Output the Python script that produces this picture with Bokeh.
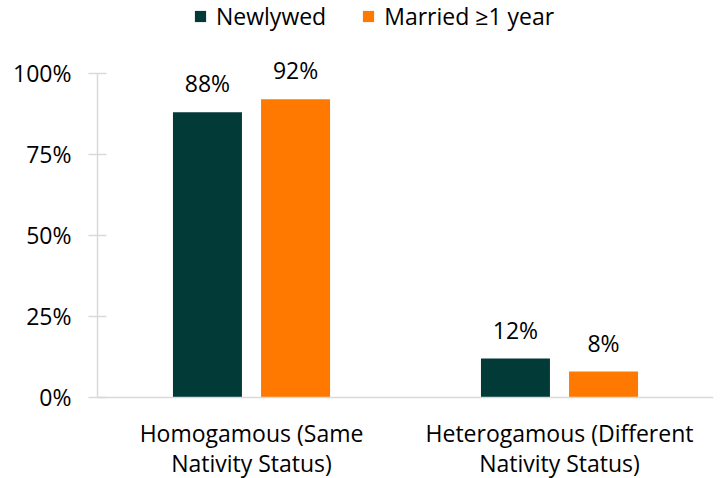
from bokeh.plotting import figure
from bokeh.models import ColumnDataSource, FactorRange, FixedTicker, Legend, LegendItem, Span
from bokeh.transform import dodge
from bokeh.core.properties import value
from bokeh.embed import file_html
from bokeh.resources import INLINE

categories = ["Homogamous (Same\nNativity Status)", "Heterogamous (Different\nNativity Status)"]
newlywed = [88, 12]
married = [92, 8]
series_names = ["Newlywed", "Married \u22651 year"]
y_ticks = [0, 25, 50, 75, 100]

FONT = "Open Sans"
FS = "23px"
DARK = "#023A37"
ORANGE = "#FF7800"
AXIS = "#D9D9D9"

src = ColumnDataSource(dict(
    cat=categories,
    new=newlywed,
    mar=married,
    new_lbl=[f"{v}%" for v in newlywed],
    mar_lbl=[f"{v}%" for v in married],
    line1=[c.split("\n")[0] for c in categories],
    line2=[c.split("\n")[1] for c in categories],
    base=[0] * len(categories),
))

p = figure(width=722, height=478, x_range=FactorRange(*categories), y_range=(-25, 122.5),
           output_backend="svg", toolbar_location=None, x_axis_location=None,
           min_border_left=97, min_border_right=9, min_border_top=0, min_border_bottom=0)
p.outline_line_color = None
p.grid.grid_line_color = None
p.background_fill_color = "white"
p.border_fill_color = "white"

# baseline (category axis line)
p.add_layout(Span(location=0, dimension="width", line_color=AXIS, line_width=1.5))

r1 = p.vbar(x=dodge("cat", -0.143, range=p.x_range), top="new", width=0.224, source=src,
            fill_color=DARK, line_color=None)
r2 = p.vbar(x=dodge("cat", 0.143, range=p.x_range), top="mar", width=0.224, source=src,
            fill_color=ORANGE, line_color=None)

p.text(x=dodge("cat", -0.143, range=p.x_range), y="new", text="new_lbl", source=src,
       text_align="center", text_baseline="bottom", y_offset=-13,
       text_font=value(FONT), text_font_size=FS, text_color="#000000")
p.text(x=dodge("cat", 0.143, range=p.x_range), y="mar", text="mar_lbl", source=src,
       text_align="center", text_baseline="bottom", y_offset=-13,
       text_font=value(FONT), text_font_size=FS, text_color="#000000")

# category labels (two lines each)
p.text(x="cat", y="base", text="line1", source=src, text_align="center", text_baseline="middle",
       y_offset=36, text_font=value(FONT), text_font_size=FS, text_color="#000000")
p.text(x="cat", y="base", text="line2", source=src, text_align="center", text_baseline="middle",
       y_offset=66, text_font=value(FONT), text_font_size=FS, text_color="#000000")

# y axis
ya = p.yaxis[0]
ya.ticker = FixedTicker(ticks=y_ticks)
ya.bounds = (0, 100)
ya.major_label_overrides = {t: f"{t}%" for t in y_ticks}
ya.axis_line_color = AXIS
ya.axis_line_width = 1.5
ya.major_tick_line_color = AXIS
ya.major_tick_line_width = 1.5
ya.major_tick_in = 9
ya.major_tick_out = 9
ya.minor_tick_line_color = None
ya.major_label_text_font = FONT
ya.major_label_text_font_size = FS
ya.major_label_text_color = "#000000"
ya.major_label_standoff = 17

legend = Legend(items=[LegendItem(label=series_names[0], renderers=[r1]),
                       LegendItem(label=series_names[1], renderers=[r2])],
                orientation="horizontal", location=(96, 446),
                glyph_width=14, glyph_height=14, label_standoff=9, spacing=35,
                label_text_font=FONT, label_text_font_size=FS, label_text_color="#000000",
                border_line_color=None, background_fill_alpha=0, padding=4, margin=0)
p.add_layout(legend, "center")

open("out.html", "w").write(file_html(p, INLINE))
